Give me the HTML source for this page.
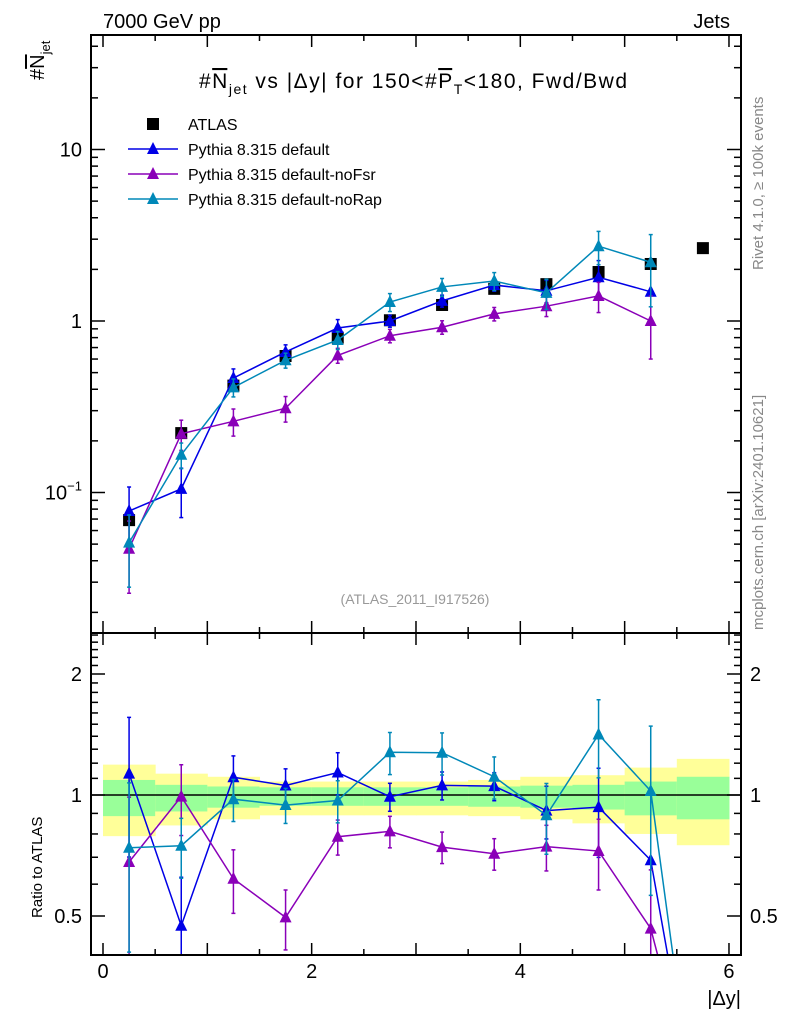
<!DOCTYPE html>
<html><head><meta charset="utf-8"><style>
body{margin:0;background:#fff;}
svg text{font-family:"Liberation Sans",sans-serif;}
</style></head><body>
<svg id="c" width="786" height="1024" xmlns="http://www.w3.org/2000/svg">
<defs>
<clipPath id="cm"><rect x="91" y="35" width="650" height="598"/></clipPath>
<clipPath id="cr"><rect x="91" y="633" width="650" height="322"/></clipPath>
</defs>
<g id="ratioBands" clip-path="url(#cr)"></g>
<g id="main" clip-path="url(#cm)"></g>
<g id="ratio" clip-path="url(#cr)"></g>
<g id="axes"></g>
<text x="103" y="28" font-size="20">7000 GeV pp</text>
<text x="730" y="28" font-size="20" text-anchor="end">Jets</text>
<text x="199" y="88" font-size="21" textLength="428" lengthAdjust="spacing">#<tspan text-decoration="overline">N</tspan><tspan font-size="14" dy="6">jet</tspan><tspan dy="-6"> vs |Δy| for 150&lt;#</tspan><tspan text-decoration="overline">P</tspan><tspan font-size="14" dy="6">T</tspan><tspan dy="-6">&lt;180, Fwd/Bwd</tspan></text>
<text transform="translate(44,80) rotate(-90)" font-size="20">#<tspan text-decoration="overline">N</tspan><tspan font-size="13" dy="6">jet</tspan></text>
<text transform="translate(42,918) rotate(-90)" font-size="15">Ratio to ATLAS</text>
<text x="741" y="1005" font-size="20" text-anchor="end">|Δy|</text>
<text x="415" y="604" font-size="14" fill="#999" text-anchor="middle">(ATLAS_2011_I917526)</text>
<text transform="translate(763,270) rotate(-90)" font-size="15" fill="#888">Rivet 4.1.0, ≥ 100k events</text>
<text transform="translate(763,630) rotate(-90)" font-size="15" fill="#888">mcplots.cern.ch [arXiv:2401.10621]</text>
<g id="legend"></g>
</svg>
<script>
const xs=[0.25,0.75,1.25,1.75,2.25,2.75,3.25,3.75,4.25,4.75,5.25,5.75];
const atlas=[0.069,0.222,0.42,0.625,0.80,1.01,1.24,1.54,1.64,1.93,2.15,2.66];
const pyDef=[0.078,0.105,0.465,0.66,0.91,1.0,1.31,1.62,1.5,1.8,1.48];
const pyNoFsr=[0.047,0.22,0.26,0.31,0.63,0.82,0.92,1.1,1.22,1.4,1.0];
const pyNoRap=[0.051,0.166,0.41,0.59,0.775,1.29,1.58,1.71,1.46,2.73,2.2];
const errDef=[0.38,0.32,0.13,0.1,0.12,0.08,0.08,0.08,0.15,0.25,0.0];
const errNoFsr=[0.45,0.2,0.18,0.17,0.1,0.09,0.09,0.09,0.13,0.2,0.4];
const errNoRap=[0.45,0.17,0.12,0.1,0.12,0.12,0.12,0.12,0.2,0.22,0.45];
const yelUp=[1.19,1.13,1.11,1.08,1.08,1.08,1.08,1.09,1.11,1.12,1.17,1.23];
const yelDn=[0.79,0.84,0.87,0.89,0.89,0.89,0.89,0.886,0.87,0.85,0.80,0.75];
const grnUp=[1.09,1.06,1.05,1.045,1.045,1.045,1.045,1.05,1.055,1.06,1.08,1.11];
const grnDn=[0.886,0.91,0.93,0.94,0.94,0.94,0.94,0.935,0.93,0.92,0.89,0.87];
const xTicks=[0,2,4,6];
const yTicksMain=[[10,"10"],[1,"1"]];
const rTicks=[[2,"2"],[1,"1"],[0.5,"0.5"]];
const X=v=>103+v*104.33;
const YM=v=>321-Math.log10(v)*171.5;
const YR=v=>795-Math.log2(v)*121;
const NS="http://www.w3.org/2000/svg";
function mk(p,t,a){const e=document.createElementNS(NS,t);for(const k in a)e.setAttribute(k,a[k]);p.appendChild(e);return e;}
const gm=document.getElementById('main'),gr=document.getElementById('ratio'),gb=document.getElementById('ratioBands'),ga=document.getElementById('axes'),gl=document.getElementById('legend');
xs.forEach((x,i)=>{
 let r=mk(gb,'rect',{x:X(x-0.25),y:YR(yelUp[i]),width:104.33*0.5+0.5,height:YR(yelDn[i])-YR(yelUp[i]),fill:'#ffff99'});
 
 
 let g=mk(gb,'rect',{x:X(x-0.25),y:YR(grnUp[i]),width:104.33*0.5+0.5,height:YR(grnDn[i])-YR(grnUp[i]),fill:'#99ff99'});
 
 
});
mk(gb,'line',{x1:91,x2:741,y1:YR(1),y2:YR(1),stroke:'#000','stroke-width':1.5});
function tri(p,x,y,c){return mk(p,'polygon',{points:`${x-6},${y+5} ${x+6},${y+5} ${x},${y-7}`,fill:c});}
const series=[[pyDef,errDef,'#0000e6','pythia-default'],[pyNoFsr,errNoFsr,'#8a00b8','pythia-nofsr'],[pyNoRap,errNoRap,'#0088b8','pythia-norap']];
xs.forEach((x,i)=>{
 let r=mk(gm,'rect',{x:X(x)-6,y:YM(atlas[i])-6,width:12,height:12,fill:'#000'});
 
 
});
series.forEach(([v,e,c,n])=>{
 let pts=v.map((y,i)=>X(xs[i])+','+YM(y)).join(' ');
 let pl=mk(gm,'polyline',{points:pts,fill:'none',stroke:c,'stroke-width':1.5});
 
 
 let rv=v.map((y,i)=>y/atlas[i]);
 let rpts=rv.map((y,i)=>X(xs[i])+','+YR(y)).join(' ')+' '+X(5.62)+','+YR(0.2);
 let rl=mk(gr,'polyline',{points:rpts,fill:'none',stroke:c,'stroke-width':1.5});
 
 
 v.forEach((y,i)=>{
  const x=X(xs[i]);
  [[gm,YM,y],[gr,YR,rv[i]]].forEach(([p,F,val])=>{
   if(e[i]>0){
    const hi=F(val*(1+e[i])),lo=F(Math.max(val*(1-e[i]),0.01));
    mk(p,'line',{x1:x,x2:x,y1:hi,y2:lo,stroke:c,'stroke-width':1.5});
    mk(p,'line',{x1:x-2,x2:x+2,y1:hi,y2:hi,stroke:c,'stroke-width':1.5});
    mk(p,'line',{x1:x-2,x2:x+2,y1:lo,y2:lo,stroke:c,'stroke-width':1.5});
   }
   let t=tri(p,x,F(val),c);
   
   
  });
 });
});
[[35,633],[633,955]].forEach(([a,b])=>mk(ga,'rect',{x:91,y:a,width:650,height:b-a,fill:'none',stroke:'#000','stroke-width':2}));
for(let v=0;v<=6.01;v+=0.5){const x=X(v),maj=Math.abs(v-Math.round(v))<0.01;const L=maj?12:6;
 [[35,1],[633,-1],[633,1],[955,-1]].forEach(([y,d])=>mk(ga,'line',{x1:x,x2:x,y1:y,y2:y+d*L,stroke:'#000','stroke-width':1.5}));}
xTicks.forEach(v=>{let t=mk(ga,'text',{x:X(v),y:978,'font-size':20,'text-anchor':'middle'});t.textContent=v;
 
 });
for(let d=-2;d<=1;d++)for(let m=1;m<=9;m++){const v=m*Math.pow(10,d);const y=YM(v);if(y<35||y>633)continue;const L=m==1?14:7;
 mk(ga,'line',{x1:91,x2:91+L,y1:y,y2:y,stroke:'#000','stroke-width':1.5});mk(ga,'line',{x1:741,x2:741-L,y1:y,y2:y,stroke:'#000','stroke-width':1.5});}
yTicksMain.forEach(([v,s])=>{let t=mk(ga,'text',{x:82,y:YM(v)+7,'font-size':20,'text-anchor':'end'});t.textContent=s;
 
 });
let t10=mk(ga,'text',{x:82,y:YM(0.1)+7,'font-size':20,'text-anchor':'end'});t10.innerHTML='10<tspan font-size="13" dy="-9">−1</tspan>';


[0.4,0.5,0.6,0.7,0.8,0.9,1,1.1,1.2,1.3,1.4,1.5,1.6,1.7,1.8,1.9,2,2.1,2.2,2.3,2.4,2.5].forEach(v=>{const y=YR(v);if(y<633||y>955)return;const maj=[0.5,1,2].includes(v);const L=maj?14:7;
 mk(ga,'line',{x1:91,x2:91+L,y1:y,y2:y,stroke:'#000','stroke-width':1.5});mk(ga,'line',{x1:741,x2:741-L,y1:y,y2:y,stroke:'#000','stroke-width':1.5});});
rTicks.forEach(([v,s])=>{[[82,'end'],[750,'start']].forEach(([x,a])=>{let t=mk(ga,'text',{x:x,y:YR(v)+7,'font-size':20,'text-anchor':a});t.textContent=s;
 
 });});
const leg=[['ATLAS','#000',0],['Pythia 8.315 default','#0000e6',1],['Pythia 8.315 default-noFsr','#8a00b8',1],['Pythia 8.315 default-noRap','#0088b8',1]];
leg.forEach(([s,c,isT],i)=>{const y=124+i*25;
 if(isT){mk(gl,'line',{x1:128,x2:178,y1:y,y2:y,stroke:c,'stroke-width':1.5});tri(gl,153,y,c);}
 else mk(gl,'rect',{x:147,y:y-6,width:12,height:12,fill:c});
 let t=mk(gl,'text',{x:188,y:y+6,'font-size':16});t.textContent=s;
 
 });
</script>
</body></html>
